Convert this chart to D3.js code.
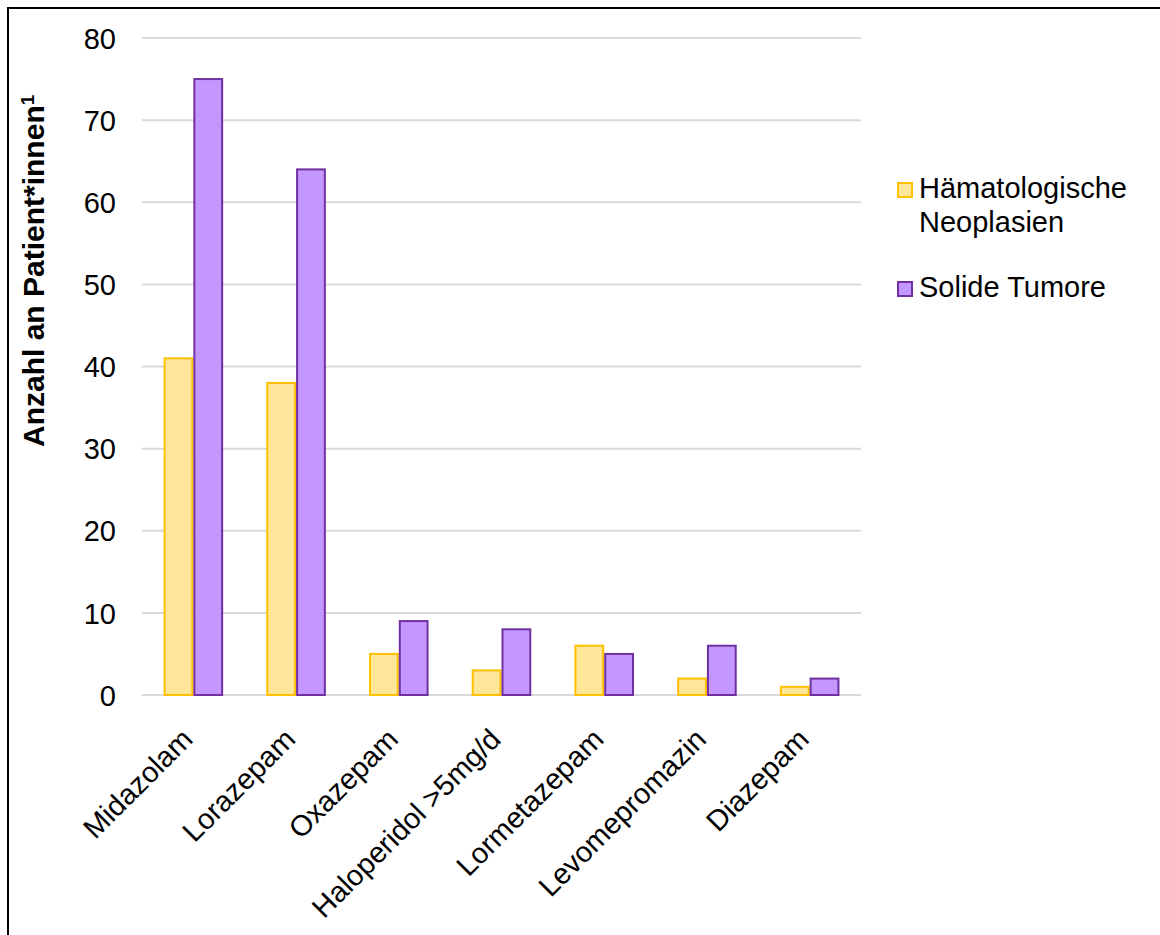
<!DOCTYPE html>
<html>
<head>
<meta charset="utf-8">
<script src="https://cdn.jsdelivr.net/npm/d3@7"></script>
<style>
  html, body { margin: 0; padding: 0; background: #fff; }
  svg { display: block; font-family: "Liberation Sans", Arial, sans-serif; }
</style>
</head>
<body>
<svg id="chart" width="1160" height="935"></svg>
<script>
// Medications and patient counts per tumour group
const categories = ["Midazolam", "Lorazepam", "Oxazepam", "Haloperidol >5mg/d", "Lormetazepam", "Levomepromazin", "Diazepam"];
const haematological = [41, 38, 5, 3, 6, 2, 1];
const solid = [75, 64, 9, 8, 5, 6, 2];
const seriesNames = ["Hämatologische Neoplasien", "Solide Tumore"];
const yTicks = [0, 10, 20, 30, 40, 50, 60, 70, 80];

const series = [
  { name: seriesNames[0], values: haematological, fill: "#FFE699", stroke: "#FFC000" },
  { name: seriesNames[1], values: solid, fill: "#C497FF", stroke: "#7030A0" }
];

const FONT = 29;
const svg = d3.select("#chart");

// outer frame (top and left edges visible)
svg.append("path")
  .attr("d", "M8,935 V8 H1160")
  .attr("fill", "none").attr("stroke", "#000").attr("stroke-width", 2);

const plot = { left: 142, right: 861, top: 38, bottom: 695 };

const x = d3.scaleBand().domain(categories).range([plot.left, plot.right]).paddingInner(0.42).paddingOuter(0.21);
const xs = d3.scaleBand().domain([0, 1]).range([0, x.bandwidth()]);
const y = d3.scaleLinear().domain([0, 80]).range([plot.bottom, plot.top]);

// horizontal gridlines
svg.append("g").selectAll("line").data(yTicks).join("line")
  .attr("x1", plot.left).attr("x2", plot.right)
  .attr("y1", d => y(d)).attr("y2", d => y(d))
  .attr("stroke", "#d9d9d9").attr("stroke-width", 2);

// y axis labels
const yAxis = d3.axisLeft(y).tickValues(yTicks).tickSize(0).tickPadding(0);
const gy = svg.append("g").attr("transform", `translate(116,0)`).call(yAxis);
gy.select(".domain").remove();
gy.selectAll("text").attr("font-size", FONT).attr("fill", "#000")
  .attr("font-family", "Liberation Sans, Arial, sans-serif").attr("dy", "0.35em");

// bars
const groups = svg.append("g").selectAll("g").data(series).join("g");
groups.selectAll("rect").data((s, i) => s.values.map((v, j) => ({ v, cat: categories[j], i, s })))
  .join("rect")
  .attr("x", d => x(d.cat) + xs(d.i) + 1)
  .attr("width", xs.bandwidth() - 2)
  .attr("y", d => y(d.v))
  .attr("height", d => y(0) - y(d.v))
  .attr("fill", d => d.s.fill)
  .attr("stroke", d => d.s.stroke)
  .attr("stroke-width", 2);

// x axis labels, rotated
const xAxis = d3.axisBottom(x).tickSize(0).tickPadding(0);
const gx = svg.append("g").attr("transform", `translate(0,${plot.bottom})`).call(xAxis);
gx.select(".domain").remove();
gx.selectAll("text")
  .attr("font-size", FONT).attr("fill", "#000")
  .attr("font-family", "Liberation Sans, Arial, sans-serif")
  .attr("text-anchor", "end")
  .attr("dy", null).attr("y", 0)
  .attr("transform", "translate(1,46) rotate(-45)");

// y axis title
const yt = svg.append("text")
  .attr("transform", "translate(44,447) rotate(-90)")
  .attr("text-anchor", "start")
  .attr("font-size", 30).attr("font-weight", "bold").attr("fill", "#000");
yt.append("tspan").text("Anzahl an Patient*innen");
yt.append("tspan").attr("font-size", 19).attr("dy", -10).text("1");

// legend
const legend = [
  { lines: ["Hämatologische", "Neoplasien"], y: 198, s: series[0] },
  { lines: ["Solide Tumore"], y: 297, s: series[1] }
];
const lg = svg.append("g").selectAll("g").data(legend).join("g");
lg.append("rect")
  .attr("x", 898).attr("y", d => d.y - 15).attr("width", 14).attr("height", 14)
  .attr("fill", d => d.s.fill).attr("stroke", d => d.s.stroke).attr("stroke-width", 2);
lg.append("text")
  .attr("x", 919).attr("y", d => d.y).attr("font-size", FONT).attr("fill", "#000")
  .selectAll("tspan").data(d => d.lines).join("tspan")
  .attr("x", 919).attr("dy", (d, i) => i === 0 ? 0 : 33.5).text(d => d);
</script>
</body>
</html>
